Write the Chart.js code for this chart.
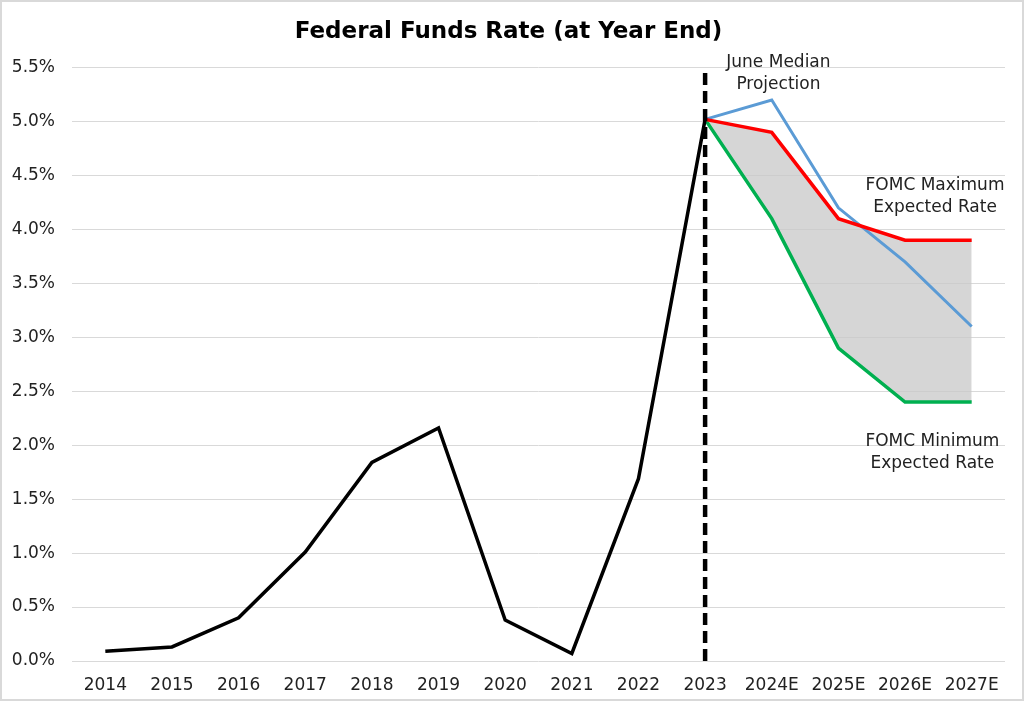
<!DOCTYPE html>
<html>
<head>
<meta charset="utf-8">
<script src="https://cdn.jsdelivr.net/npm/chart.js@4"></script>
<style>
  html, body { margin: 0; padding: 0; background: #fff; }
  #wrap { width: 1024px; height: 701px; }
</style>
</head>
<body>
<div id="wrap"><canvas id="chart" width="1024" height="701"></canvas></div>
<script>
// categories and values
var years = ['2014', '2015', '2016', '2017', '2018', '2019', '2020', '2021', '2022', '2023', '2024E', '2025E', '2026E', '2027E'];
var actualRate = [0.09, 0.13, 0.40, 1.01, 1.84, 2.16, 0.38, 0.07, 1.69, 5.02, null, null, null, null];
var medianRate = [null, null, null, null, null, null, null, null, null, 5.02, 5.2, 4.2, 3.7, 3.1];
var maxRate = [null, null, null, null, null, null, null, null, null, 5.02, 4.9, 4.1, 3.9, 3.9];
var minRate = [null, null, null, null, null, null, null, null, null, 5.02, 4.1, 2.9, 2.4, 2.4];
var markerYear = '2023';
var yTicks = [0, 0.5, 1, 1.5, 2, 2.5, 3, 3.5, 4, 4.5, 5, 5.5];

var fontFamily = '"DejaVu Sans", Verdana, sans-serif';

// notes placed by category / value through the scales
var notes = [
	{ lines: ['June Median', 'Projection'], x: 10.1, y: 5.55 },
	{ lines: ['FOMC Maximum', 'Expected Rate'], x: 12.45, y: 4.41 },
	{ lines: ['FOMC Minimum', 'Expected Rate'], x: 12.41, y: 2.03 }
];

var notesPlugin = {
	id: 'notes',
	beforeDraw: function (chart) {
		var ctx = chart.ctx;
		ctx.save();
		ctx.strokeStyle = '#d9d9d9';
		ctx.lineWidth = 2;
		ctx.strokeRect(1, 1, chart.width - 2, chart.height - 2);
		ctx.restore();
	},
	afterDatasetsDraw: function (chart) {
		var ctx = chart.ctx;
		var xs = chart.scales.x, ys = chart.scales.y;
		ctx.save();
		ctx.font = '17px ' + fontFamily;
		ctx.fillStyle = '#222';
		ctx.textAlign = 'center';
		ctx.textBaseline = 'middle';
		notes.forEach(function (n) {
			var px = xs.left + (n.x + 0.5) * (xs.width / years.length);
			var py = ys.getPixelForValue(n.y);
			n.lines.forEach(function (t, i) {
				ctx.fillText(t, px, py + i * 22);
			});
		});
		ctx.restore();
	}
};

var ctx = document.getElementById('chart');
var chart = new Chart(ctx, {
	type: 'line',
	data: {
		labels: years,
		datasets: [
			{
				label: 'marker',
				data: [{ x: markerYear, y: 0 }, { x: markerYear, y: 5.5 }],
				borderColor: '#000',
				borderWidth: 4.5,
				borderDash: [12, 6],
				pointRadius: 0,
				fill: false
			},
			{
				label: 'Federal Funds Rate',
				data: actualRate,
				borderColor: '#000',
				borderWidth: 3.5,
				pointRadius: 0,
				tension: 0,
				fill: false
			},
			{
				label: 'FOMC Maximum',
				data: maxRate,
				borderColor: '#ff0000',
				borderWidth: 3.5,
				pointRadius: 0,
				tension: 0,
				fill: false
			},
			{
				label: 'FOMC Minimum',
				data: minRate,
				borderColor: '#00b050',
				backgroundColor: 'rgba(200,200,200,0.75)',
				borderWidth: 3.5,
				pointRadius: 0,
				tension: 0,
				fill: { target: 2 }
			},
			{
				label: 'June Median',
				data: medianRate,
				borderColor: '#5b9bd5',
				borderWidth: 3,
				pointRadius: 0,
				tension: 0,
				fill: false
			}
		]
	},
	options: {
		responsive: false,
		animation: false,
		layout: { padding: { left: 12, right: 19, top: 8, bottom: 4 } },
		plugins: {
			legend: { display: false },
			tooltip: { enabled: false },
			filler: { drawTime: 'beforeDatasetsDraw' },
			title: {
				display: true,
				text: 'Federal Funds Rate (at Year End)',
				color: '#000',
				font: { family: fontFamily, size: 23, weight: 'bold' },
				padding: { top: 10, bottom: 22 }
			}
		},
		scales: {
			x: {
				type: 'category',
				offset: true,
				grid: { display: false, drawTicks: false },
				border: { display: false },
				afterFit: function (axis) { axis.height = 36; },
				ticks: {
					color: '#222',
					font: { family: fontFamily, size: 17 },
					padding: 14,
					maxRotation: 0,
					autoSkip: false
				}
			},
			y: {
				min: 0,
				max: 5.5,
				afterBuildTicks: function (axis) {
					axis.ticks = yTicks.map(function (v) { return { value: v }; });
				},
				afterFit: function (axis) { axis.width = 60; },
				grid: { color: '#d9d9d9', lineWidth: 1, drawTicks: false },
				border: { display: false },
				ticks: {
					color: '#222',
					font: { family: fontFamily, size: 17 },
					padding: 17,
					callback: function (v) { return v.toFixed(1) + '%'; }
				}
			}
		}
	},
	plugins: [notesPlugin]
});
</script>
</body>
</html>
